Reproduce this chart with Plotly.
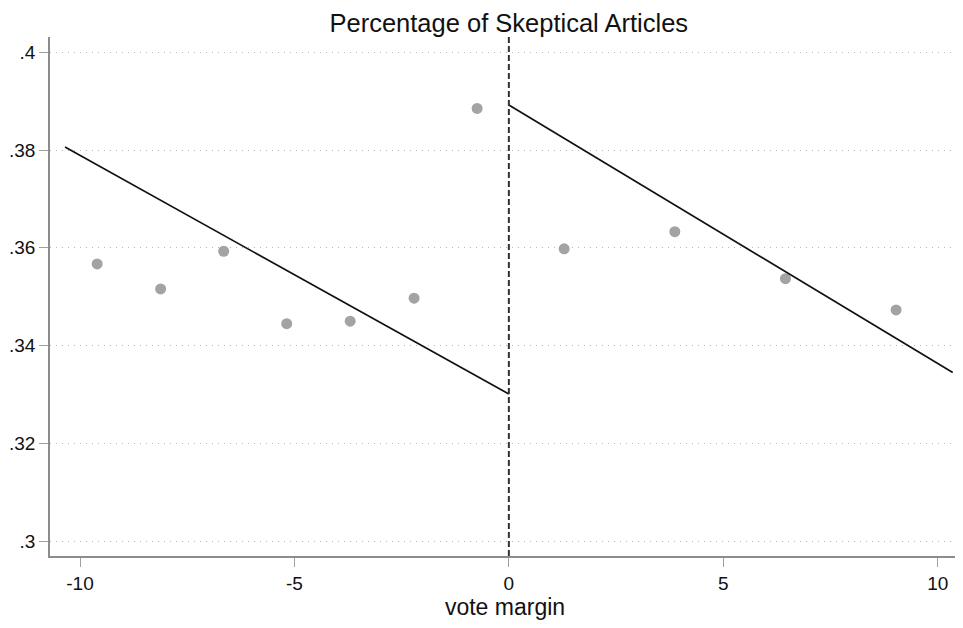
import plotly.graph_objects as go

# binned means
bin_x = [-9.60, -8.12, -6.65, -5.18, -3.70, -2.21, -0.74, 1.29, 3.87, 6.45, 9.03]
bin_y = [0.3567, 0.3516, 0.3593, 0.3445, 0.3450, 0.3497, 0.3885, 0.3598, 0.3633, 0.3537, 0.3473]

# linear fits on each side of cutoff
left_fit_x = [-10.35, 0.0]
left_fit_y = [0.3806, 0.3301]
right_fit_x = [0.0, 10.35]
right_fit_y = [0.3892, 0.3345]

y_ticks = [0.30, 0.32, 0.34, 0.36, 0.38, 0.40]
y_tick_labels = [".3", ".32", ".34", ".36", ".38", ".4"]
x_ticks = [-10, -5, 0, 5, 10]
x_tick_labels = ["-10", "-5", "0", "5", "10"]

FONT = "Liberation Sans, Arial, sans-serif"

fig = go.Figure()
fig.add_trace(go.Scatter(x=bin_x, y=bin_y, mode="markers",
                         marker=dict(color="#a3a3a3", size=11), showlegend=False))
fig.add_trace(go.Scatter(x=left_fit_x, y=left_fit_y, mode="lines",
                         line=dict(color="#111111", width=1.7), showlegend=False))
fig.add_trace(go.Scatter(x=right_fit_x, y=right_fit_y, mode="lines",
                         line=dict(color="#111111", width=1.7), showlegend=False))

fig.add_shape(type="line", xref="x", yref="paper", x0=0, x1=0, y0=0, y1=1,
              line=dict(color="#333333", width=2, dash="6px,3px"))

fig.update_layout(
    width=963, height=628,
    margin=dict(l=42, r=11, t=29, b=80, autoexpand=False),
    paper_bgcolor="white", plot_bgcolor="white",
    font=dict(family=FONT, color="#111111", size=19),
    title=dict(text="Percentage of Skeptical Articles", x=0.52, xanchor="center",
               y=0.976, yanchor="middle", font=dict(size=25.5, color="#111111")),
    xaxis=dict(range=[-10.70, 10.52], tickvals=x_ticks, ticktext=x_tick_labels,
               showgrid=False, zeroline=False, showline=True, linecolor="#8c8c8c",
               linewidth=1.6, ticks="outside", ticklen=9, tickcolor="#a0a0a0",
               tickwidth=1.3, tickfont=dict(size=19), automargin=False,
               title=dict(text="vote margin", font=dict(size=23), standoff=5)),
    yaxis=dict(range=[0.297, 0.4031], tickvals=y_ticks, ticktext=y_tick_labels,
               showgrid=True, gridcolor="#b5b5b5", griddash="1px,5px", gridwidth=1,
               zeroline=False, showline=True, linecolor="#8c8c8c", linewidth=1.6,
               ticks="outside", ticklen=9, tickcolor="#a0a0a0", tickwidth=1.3,
               tickfont=dict(size=19), automargin=False),
)

fig.write_html("out.html")
